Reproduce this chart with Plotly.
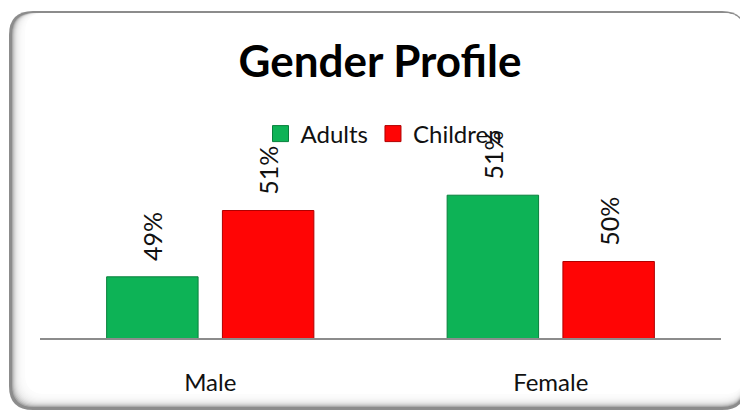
import plotly.graph_objects as go

categories = ["Male", "Female"]
adults = [49.2, 50.8]
children = [50.5, 49.5]
adult_labels = ["49%", "51%"]
child_labels = ["51%", "50%"]

# page has an 8px body margin; work in page pixels and convert
OFF = 8
W, H = 740, 412
ML, MR, MT, MB = 40 - OFF, W - (721 - OFF), 134 - OFF, H - (338 - OFF)
PW, PH = W - ML - MR, H - MT - MB

def px(x):
    return (x - OFF - ML) / PW

def py(y):
    return (H - MB - (y - OFF)) / PH

def rrect(x0, y0, x1, y1, r):
    return (f"M {px(x0 + r)},{py(y0)} L {px(x1 - r)},{py(y0)} "
            f"Q {px(x1)},{py(y0)} {px(x1)},{py(y0 + r)} "
            f"L {px(x1)},{py(y1 - r)} Q {px(x1)},{py(y1)} {px(x1 - r)},{py(y1)} "
            f"L {px(x0 + r)},{py(y1)} Q {px(x0)},{py(y1)} {px(x0)},{py(y1 - r)} "
            f"L {px(x0)},{py(y0 + r)} Q {px(x0)},{py(y0)} {px(x0 + r)},{py(y0)} Z")

FONT = "Lato, 'Open Sans', sans-serif"
pad = "\u00a0\u00a0"
GREEN, GREEN_D = "#0db356", "#08803c"
RED, RED_D = "#ff0505", "#b00000"

fig = go.Figure()
fig.add_trace(go.Bar(
    name="Adults", x=categories, y=adults, showlegend=False,
    text=[pad + t for t in adult_labels], textposition="outside", textangle=-90,
    textfont=dict(size=25, color="#111", family=FONT),
    marker=dict(color=GREEN, line=dict(color=GREEN_D, width=1)),
    cliponaxis=False,
))
fig.add_trace(go.Bar(
    name="Children", x=categories, y=children, showlegend=False,
    text=[pad + t for t in child_labels], textposition="outside", textangle=-90,
    textfont=dict(size=25, color="#111", family=FONT),
    marker=dict(color=RED, line=dict(color=RED_D, width=1)),
    cliponaxis=False,
))
# legend entries with larger square swatches
for name, c, cd in [("Adults", GREEN, GREEN_D), ("Children", RED, RED_D)]:
    fig.add_trace(go.Scatter(
        name=name, x=[categories[0]], y=[None], mode="markers",
        marker=dict(symbol="square", size=16, color=c, line=dict(color=cd, width=1)),
        hoverinfo="skip",
    ))

shapes = []
X0, Y0, X1, Y1, R = 9, 11, 746, 410, 24
shapes.append(dict(type="path", xref="paper", yref="paper", layer="below",
                   path=rrect(X0, Y0, X1, Y1, R), fillcolor="#8c8c8c",
                   line=dict(width=0)))
for k in range(1, 13):
    shapes.append(dict(type="path", xref="paper", yref="paper", layer="below",
                       path=rrect(X0 + 2 + k, Y0 + 2, X1 - 2, Y1 - 2 - k, R - 2),
                       fillcolor="rgba(255,255,255,0.28)", line=dict(width=0)))
shapes.append(dict(type="path", xref="paper", yref="paper", layer="below",
                   path=rrect(X0 + 16, Y0 + 2, X1 - 2, Y1 - 16, R - 4),
                   fillcolor="white", line=dict(width=0)))

fig.update_layout(
    width=W, height=H,
    margin=dict(l=ML, r=MR, t=MT, b=MB),
    paper_bgcolor="white", plot_bgcolor="rgba(0,0,0,0)",
    font=dict(family=FONT, color="#111"),
    title=dict(text="<b>Gender Profile</b>", x=(380 - OFF) / W, xanchor="center",
               y=1 - (62 - OFF) / H, yanchor="middle", yref="container",
               font=dict(size=44, family=FONT, color="#000")),
    barmode="group", bargap=0.32, bargroupgap=0.21,
    showlegend=True,
    legend=dict(orientation="h", x=px(384), xanchor="center", y=py(134), yanchor="middle",
                font=dict(size=24, family=FONT, color="#111"), bgcolor="rgba(0,0,0,0)",
                itemwidth=30, traceorder="normal", itemsizing="trace"),
    xaxis=dict(showline=True, linecolor="#8c8c8c", linewidth=1.5, showgrid=False,
               ticks="", tickfont=dict(size=24, family=FONT, color="#111"),
               ticklabelstandoff=22, fixedrange=True),
    yaxis=dict(range=[48, 52], visible=False, showgrid=False, fixedrange=True),
    shapes=shapes,
)

fig.write_html("out.html")
